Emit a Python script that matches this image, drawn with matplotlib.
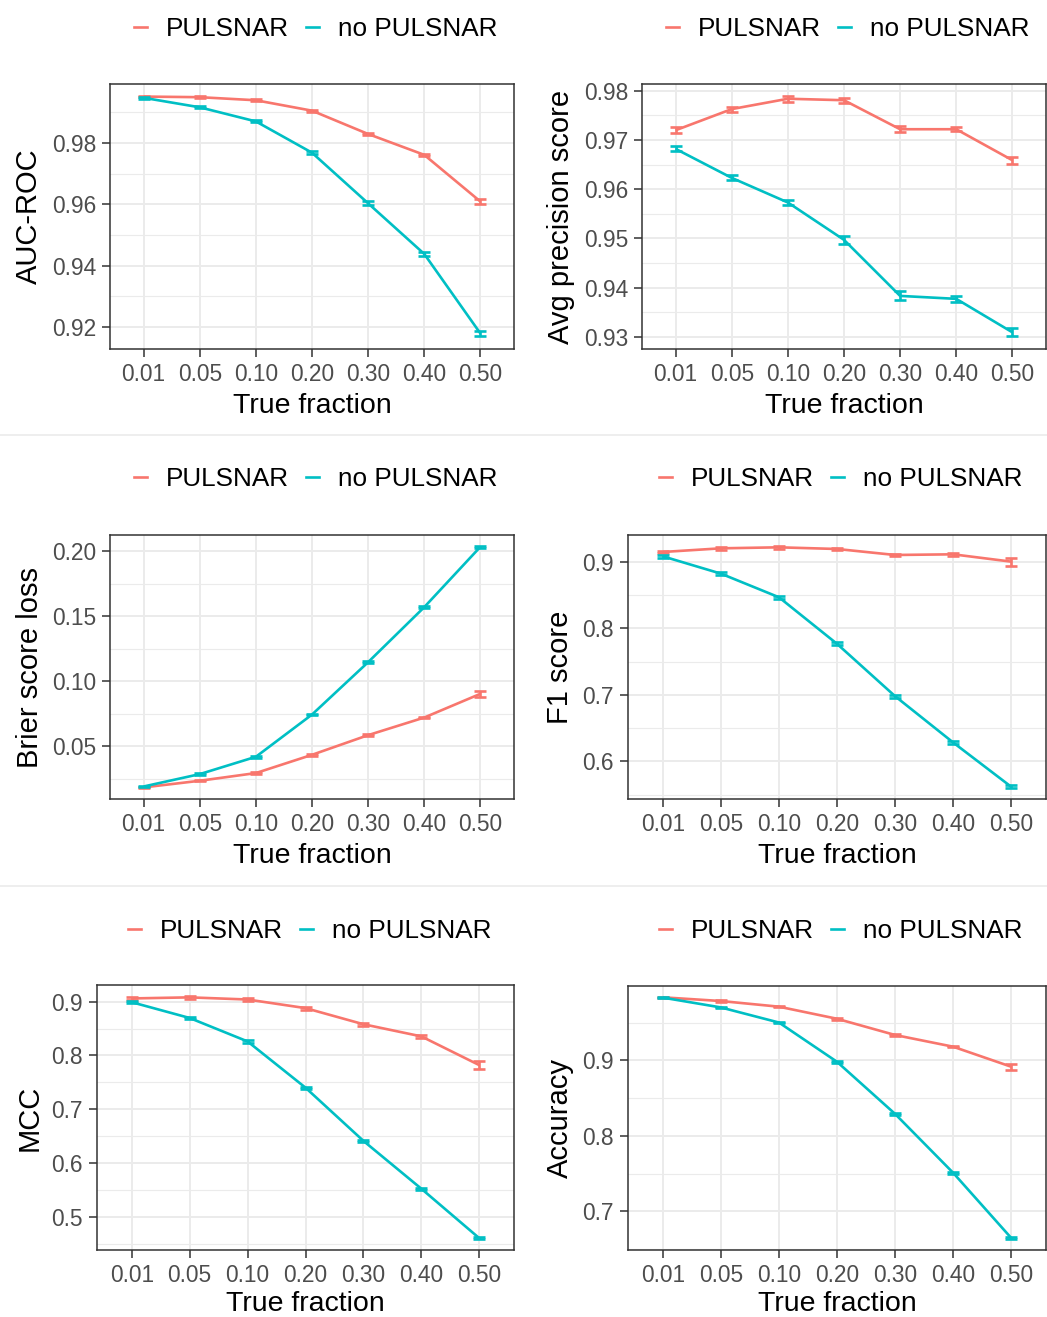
import matplotlib
matplotlib.use("Agg")
import matplotlib.pyplot as plt
from matplotlib.lines import Line2D
import numpy as np

plt.rcParams['font.family'] = ['Liberation Sans', 'DejaVu Sans']

# ---------------- data ----------------
true_fraction = ["0.01", "0.05", "0.10", "0.20", "0.30", "0.40", "0.50"]
series_names = ["PULSNAR", "no PULSNAR"]

auc_pulsnar = [0.9951, 0.9949, 0.9939, 0.9905, 0.9829, 0.9761, 0.9609]
auc_pulsnar_se = [0.0003, 0.0003, 0.0003, 0.0003, 0.0004, 0.0004, 0.0008]
auc_nopulsnar = [0.9947, 0.9916, 0.9870, 0.9768, 0.9603, 0.9438, 0.9179]
auc_nopulsnar_se = [0.0003, 0.0003, 0.0003, 0.0005, 0.0006, 0.0006, 0.0009]

ap_pulsnar = [0.9720, 0.9763, 0.9784, 0.9781, 0.9722, 0.9722, 0.9659]
ap_pulsnar_se = [0.0006, 0.0005, 0.0006, 0.0005, 0.0006, 0.0004, 0.0007]
ap_nopulsnar = [0.9682, 0.9623, 0.9573, 0.9497, 0.9383, 0.9377, 0.9309]
ap_nopulsnar_se = [0.0005, 0.0005, 0.0005, 0.0008, 0.0009, 0.0006, 0.0008]

brier_pulsnar = [0.0186, 0.0237, 0.0296, 0.0436, 0.0587, 0.0722, 0.0904]
brier_pulsnar_se = [0.0005, 0.0005, 0.0005, 0.0006, 0.0006, 0.0006, 0.0025]
brier_nopulsnar = [0.0193, 0.0288, 0.0421, 0.0745, 0.1147, 0.1569, 0.2032]
brier_nopulsnar_se = [0.0005, 0.0005, 0.0006, 0.0006, 0.0007, 0.0007, 0.0009]

f1_pulsnar = [0.9145, 0.9200, 0.9215, 0.9190, 0.9100, 0.9110, 0.9000]
f1_pulsnar_se = [0.002, 0.002, 0.002, 0.002, 0.002, 0.002, 0.006]
f1_nopulsnar = [0.9080, 0.8820, 0.8465, 0.7766, 0.6980, 0.6285, 0.5620]
f1_nopulsnar_se = [0.002, 0.002, 0.002, 0.002, 0.002, 0.002, 0.002]

mcc_pulsnar = [0.9060, 0.9080, 0.9040, 0.8880, 0.8580, 0.8354, 0.7820]
mcc_pulsnar_se = [0.003, 0.003, 0.003, 0.003, 0.003, 0.003, 0.007]
mcc_nopulsnar = [0.8990, 0.8696, 0.8260, 0.7400, 0.6410, 0.5520, 0.4600]
mcc_nopulsnar_se = [0.002, 0.002, 0.002, 0.002, 0.002, 0.002, 0.002]

acc_pulsnar = [0.9834, 0.9785, 0.9710, 0.9550, 0.9335, 0.9180, 0.8915]
acc_pulsnar_se = [0.001, 0.001, 0.001, 0.001, 0.001, 0.001, 0.004]
acc_nopulsnar = [0.9830, 0.9700, 0.9500, 0.8980, 0.8290, 0.7510, 0.6647]
acc_nopulsnar_se = [0.001, 0.001, 0.001, 0.001, 0.001, 0.001, 0.001]

# ---------------- style ----------------
RED = "#F8766D"
CYAN = "#00BFC4"
GRID = "#EBEBEB"
BORDER = "#333333"
TICKTXT = "#4D4D4D"

W, H = 1047, 1317
fig = plt.figure(figsize=(W / 100, H / 100), dpi=100)


def px_rect(left, right, top, bottom):
    return [left / W, 1 - bottom / H, (right - left) / W, (bottom - top) / H]


def draw_panel(rect, ylabel, yp, yp_se, yn, yn_se, ylim, major, minor, fmt,
               legend_xy, xlabelpad=5):
    ax = fig.add_axes(px_rect(*rect))
    x = np.arange(1, len(true_fraction) + 1)
    for vals, se, col in ((yp, yp_se, RED), (yn, yn_se, CYAN)):
        ax.plot(x, vals, color=col, lw=1.9, solid_capstyle='butt', zorder=3)
        ax.errorbar(x, vals, yerr=se, fmt='none', ecolor=col, elinewidth=1.9,
                    capsize=4.2, capthick=1.9, zorder=3)
    ax.set_xlim(0.4, len(true_fraction) + 0.6)
    ax.set_ylim(*ylim)
    ax.set_xticks(x)
    ax.set_xticklabels(true_fraction)
    ax.set_yticks(major)
    ax.set_yticklabels([fmt.format(v) for v in major])
    ax.set_yticks(minor, minor=True)
    ax.tick_params(axis='y', which='minor', length=0)
    ax.grid(True, which='major', color=GRID, lw=1.4, zorder=0)
    ax.grid(True, which='minor', axis='y', color=GRID, lw=0.8, zorder=0)
    ax.set_axisbelow(True)
    for s in ax.spines.values():
        s.set_color(BORDER)
        s.set_linewidth(1.1)
    ax.tick_params(axis='both', which='major', length=6, width=1.1,
                   color=BORDER, labelsize=16.4, labelcolor=TICKTXT, pad=4)
    ax.set_xlabel("True fraction", fontsize=20.5, color='black',
                  labelpad=xlabelpad)
    ax.set_ylabel(ylabel, fontsize=21, color='black', labelpad=6)

    handles = [Line2D([], [], color=RED, lw=1.9),
               Line2D([], [], color=CYAN, lw=1.9)]
    lx, ly = legend_xy
    ax.legend(handles, series_names, loc='center',
              bbox_to_anchor=(lx / W, 1 - ly / H),
              bbox_transform=fig.transFigure, ncol=2, frameon=False,
              fontsize=18.8, handlelength=0.5, handletextpad=0.72,
              columnspacing=0.65, borderpad=0, borderaxespad=0)
    return ax


draw_panel((110, 514, 84, 349), "AUC-ROC", auc_pulsnar, auc_pulsnar_se,
           auc_nopulsnar, auc_nopulsnar_se, (0.9128, 0.9992),
           [0.92, 0.94, 0.96, 0.98], [0.93, 0.95, 0.97, 0.99], "{:.2f}",
           (316, 29))

draw_panel((642, 1046, 84, 349), "Avg precision score", ap_pulsnar,
           ap_pulsnar_se, ap_nopulsnar, ap_nopulsnar_se, (0.9275, 0.9814),
           [0.93, 0.94, 0.95, 0.96, 0.97, 0.98],
           [0.935, 0.945, 0.955, 0.965, 0.975], "{:.2f}", (848, 29))

draw_panel((110, 514, 535, 799), "Brier score loss", brier_pulsnar,
           brier_pulsnar_se, brier_nopulsnar, brier_nopulsnar_se,
           (0.0097, 0.2123), [0.05, 0.10, 0.15, 0.20],
           [0.025, 0.075, 0.125, 0.175], "{:.2f}", (316, 479))

draw_panel((628, 1046, 535, 799), "F1 score", f1_pulsnar, f1_pulsnar_se,
           f1_nopulsnar, f1_nopulsnar_se, (0.5436, 0.940),
           [0.6, 0.7, 0.8, 0.9], [0.55, 0.65, 0.75, 0.85], "{:.1f}",
           (841, 479))

draw_panel((97, 514, 985, 1250), "MCC", mcc_pulsnar, mcc_pulsnar_se,
           mcc_nopulsnar, mcc_nopulsnar_se, (0.438, 0.931),
           [0.5, 0.6, 0.7, 0.8, 0.9], [0.45, 0.55, 0.65, 0.75, 0.85],
           "{:.1f}", (309.5, 931), xlabelpad=3)

draw_panel((628, 1046, 986, 1250), "Accuracy", acc_pulsnar, acc_pulsnar_se,
           acc_nopulsnar, acc_nopulsnar_se, (0.6487, 0.9984),
           [0.7, 0.8, 0.9], [0.65, 0.75, 0.85, 0.95], "{:.1f}", (841, 931),
           xlabelpad=3)

# thin separators between the rows of panels
for yy in (435, 886):
    fig.add_artist(Line2D([0, 1], [1 - yy / H, 1 - yy / H],
                          transform=fig.transFigure, color=GRID, lw=1.2))

fig.savefig("out.png", dpi=100, facecolor='white')
